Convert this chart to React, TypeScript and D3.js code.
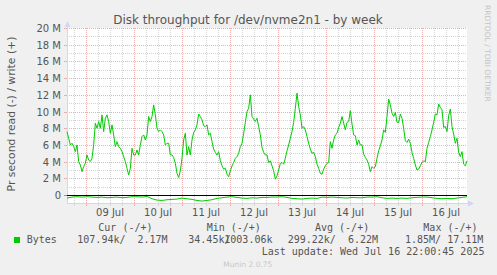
import React, { useEffect } from 'react';
import * as d3 from 'd3';

// Write (+) throughput in MB/s, sampled every 50 minutes from Jul 8 14:30 UTC
const writeValues = [
  7.6, 6.8, 6.0, 6.2, 5.8, 5.2, 6.0, 4.0, 3.6, 2.8, 3.4, 3.8, 4.8, 4.2, 4.0, 4.4,
  6.0, 8.6, 8.0, 8.8, 8.0, 9.6, 7.6, 9.2, 9.6, 8.8, 7.4, 8.4, 7.2, 5.8, 6.4, 5.8,
  5.6, 5.2, 4.6, 4.0, 3.2, 2.4, 3.2, 5.6, 4.8, 4.8, 5.4, 4.8, 6.0, 7.0, 7.2, 6.6,
  7.2, 9.4, 8.8, 9.4, 10.8, 9.6, 8.0, 7.6, 7.8, 7.6, 7.2, 6.0, 6.2, 6.2, 4.8, 4.8,
  4.5, 3.8, 2.6, 2.1, 2.9, 4.4, 6.6, 7.4, 4.8, 5.8, 4.8, 6.6, 7.5, 7.8, 8.4, 9.7,
  9.4, 9.0, 8.3, 8.2, 8.4, 7.2, 7.4, 6.4, 5.5, 5.1, 4.8, 5.2, 4.1, 3.5, 3.1, 3.2,
  2.5, 2.2, 2.9, 3.5, 3.9, 4.4, 4.6, 5.0, 5.8, 6.2, 7.4, 8.7, 10.0, 10.4, 12.0, 9.4,
  9.1, 8.8, 9.2, 8.2, 7.2, 5.7, 5.1, 4.8, 4.8, 3.9, 4.1, 3.5, 2.9,
  1.9, 2.3, 3.0, 3.8, 3.9, 3.7, 4.4, 5.3, 6.0, 6.8, 7.6, 8.7, 10.4, 12.2, 10.6, 9.6,
  8.0, 8.2, 7.8, 7.0, 6.2, 5.5, 5.0, 5.1, 4.6, 3.7, 3.2, 2.6, 2.5, 3.1, 3.5, 3.8,
  3.9, 6.4, 5.6, 6.6, 7.2, 7.4, 8.1, 8.6, 9.4, 8.6, 7.8, 8.7, 8.8, 10.1, 8.5, 7.2,
  7.1, 6.0, 6.6, 6.0, 6.0, 4.9, 4.5, 4.2, 3.7, 2.8, 3.4, 3.2,
  3.4, 4.4, 5.3, 5.9, 6.6, 7.8, 7.5, 9.4, 11.5, 10.8, 9.8, 9.4, 9.9, 8.7, 8.7, 9.7,
  9.2, 8.0, 6.5, 6.3, 6.7, 6.2, 5.1, 4.4, 3.6, 3.0, 3.1, 3.5, 3.9, 4.1, 4.0, 5.6,
  6.3, 7.0, 7.8, 8.7, 9.7, 9.6, 10.9, 10.5, 10.2, 8.1, 8.2, 7.6, 9.5, 10.3, 8.2, 7.3,
  6.2, 6.8, 5.1, 4.6, 5.2, 3.7, 3.5, 4.1,
];

// Read (-) throughput in MB/s, sampled every 150 minutes from Jul 8 14:30 UTC
const readValues = [
  0.36, 0.24, 0.20, 0.24, 0.20, 0.24, 0.28, 0.24, 0.32, 0.28,
  0.24, 0.32, 0.28, 0.20, 0.20, 0.24, 0.16, 0.44, 0.60, 0.64,
  0.56, 0.52, 0.48, 0.36, 0.44, 0.52, 0.64, 0.72, 0.64, 0.56,
  0.40, 0.32, 0.24, 0.20, 0.28, 0.36, 0.40, 0.32, 0.36, 0.28,
  0.28, 0.24, 0.24, 0.20, 0.28, 0.40, 0.44, 0.48, 0.40, 0.36,
  0.40, 0.24, 0.28, 0.24, 0.28, 0.32, 0.36, 0.28, 0.32, 0.32,
  0.24, 0.24, 0.20, 0.32, 0.40, 0.36, 0.40, 0.36, 0.40, 0.32,
  0.28, 0.24, 0.24, 0.32, 0.40, 0.44, 0.40, 0.44, 0.36, 0.28, 0.20,
];

const yTicks = [0, 2, 4, 6, 8, 10, 12, 14, 16, 18, 20];
const yMinorTicks = [1, 3, 5, 7, 9, 11, 13, 15, 17, 19];
const dayLabels = ['09 Jul', '10 Jul', '11 Jul', '12 Jul', '13 Jul', '14 Jul', '15 Jul', '16 Jul'];
const legendHeaders = ['Cur (-/+)', 'Min (-/+)', 'Avg (-/+)', 'Max (-/+)'];
const legendName = 'Bytes';
const title = 'Disk throughput for /dev/nvme2n1 - by week';
const yTitle = 'Pr second read (-) / write (+)';
const lastUpdate = 'Last update: Wed Jul 16 22:00:45 2025';

const START = Date.UTC(2025, 6, 8, 14, 30);
const END = START + 200 * 3600e3;
const WRITE_STEP = 50 * 60e3;
const READ_STEP = 150 * 60e3;

const SANS = 'DejaVu Sans';
const MONO = 'DejaVu Sans Mono';
const FONT_COLOR = '#555';
const AXIS = '#CFD6F8';
const GRID = '#d4d4d4';
const MGRID = '#efaeae';
const GREEN = '#00CC00';

export default function App() {
  useEffect(() => {
    document.body.style.margin = '0';
  }, []);

  const left = 67, right = 467, top = 28, bottom = 203;
  const x = d3.scaleUtc().domain([new Date(START), new Date(END)]).range([left, right]);
  const y = d3.scaleLinear().domain([-0.95, 20]).range([bottom, top]);

  const writeLine = d3.line<number>()
    .x((_, i) => x(new Date(START + i * WRITE_STEP)))
    .y((d) => y(d));
  const readLine = d3.line<number>()
    .x((_, i) => x(new Date(START + i * READ_STEP)))
    .y((d) => y(-d));

  const hours = d3.utcHour.every(6)!.range(new Date(START), new Date(END));
  const y0 = Math.round(y(0)) + 0.5;

  return (
    <svg width={497} height={275} style={{ position: 'absolute', left: 0, top: 0, display: 'block' }}>
      <rect x={0} y={0} width={497} height={275} fill="#F0F0F0" />
      <rect x={left} y={top} width={right - left} height={bottom - top} fill="#FFFFFF" />

      {/* minor horizontal grid */}
      {yMinorTicks.map((t) => (
        <line key={'hm' + t} x1={left} x2={right} y1={Math.round(y(t)) + 0.5} y2={Math.round(y(t)) + 0.5}
          stroke={GRID} strokeDasharray="1,1" shapeRendering="crispEdges" />
      ))}
      {/* vertical grid */}
      {hours.map((h) => {
        const major = h.getUTCHours() === 0;
        const xx = Math.round(x(h)) + 0.5;
        return (
          <g key={'v' + h.getTime()}>
            <line x1={xx} x2={xx} y1={top} y2={bottom} stroke={major ? MGRID : GRID}
              strokeDasharray="1,1" shapeRendering="crispEdges" />
            <line x1={xx} x2={xx} y1={bottom} y2={bottom + 3} stroke={major ? MGRID : GRID}
              shapeRendering="crispEdges" />
          </g>
        );
      })}
      {/* major horizontal grid */}
      {yTicks.filter((t) => t !== 0).map((t) => (
        <line key={'hM' + t} x1={left} x2={right} y1={Math.round(y(t)) + 0.5} y2={Math.round(y(t)) + 0.5}
          stroke={MGRID} strokeDasharray="1,1" shapeRendering="crispEdges" />
      ))}
      {yTicks.map((t) => (
        <line key={'yt' + t} x1={left - 3} x2={left} y1={Math.round(y(t)) + 0.5} y2={Math.round(y(t)) + 0.5}
          stroke={t === 0 ? '#999' : MGRID} shapeRendering="crispEdges" />
      ))}

      {/* axes */}
      <line x1={left + 0.5} x2={left + 0.5} y1={bottom} y2={top - 4} stroke={AXIS} shapeRendering="crispEdges" />
      <line x1={left} x2={right + 3} y1={bottom + 0.5} y2={bottom + 0.5} stroke={AXIS} shapeRendering="crispEdges" />
      <path d={`M${left - 2.5},${top - 1}L${left + 3.5},${top - 1}L${left + 0.5},${top - 7}Z`} fill={AXIS} />
      <path d={`M${right + 1},${bottom - 2.5}L${right + 1},${bottom + 3.5}L${right + 7},${bottom + 0.5}Z`} fill={AXIS} />

      {/* series */}
      <path d={writeLine(writeValues) || ''} fill="none" stroke={GREEN} strokeWidth={1} />
      <path d={readLine(readValues) || ''} fill="none" stroke={GREEN} strokeWidth={1} />
      <line x1={left} x2={right} y1={y0} y2={y0} stroke="#000" strokeWidth={1} shapeRendering="crispEdges" />

      {/* y labels */}
      {yTicks.map((t) => (
        <text key={'yl' + t} x={61} y={y(t) + 4} textAnchor="end" fontFamily={SANS} fontSize={10} fill={FONT_COLOR}>
          {t === 0 ? '0' : `${t} M`}
        </text>
      ))}
      {/* x labels */}
      {dayLabels.map((lab, i) => (
        <text key={lab} x={x(new Date(Date.UTC(2025, 6, 9 + i, 12)))} y={216} textAnchor="middle"
          fontFamily={SANS} fontSize={10} fill={FONT_COLOR}>{lab}</text>
      ))}

      {/* titles */}
      <text x={248} y={24} textAnchor="middle" fontFamily={SANS} fontSize={12} fill={FONT_COLOR}>{title}</text>
      <text transform="translate(14.5,114) rotate(-90)" textAnchor="middle" fontFamily={SANS} fontSize={10.8}
        fill={FONT_COLOR}>{yTitle}</text>
      <text transform="translate(485,5) rotate(90)" fontFamily={SANS} fontSize={7.5} fill="#c4c4c4">
        RRDTOOL / TOBI OETIKER
      </text>

      {/* legend */}
      {legendHeaders.map((h, i) => (
        <text key={h} x={98.3 + i * 108.35} y={230.5} fontFamily={MONO} fontSize={10} fill={FONT_COLOR}
          xmlSpace="preserve" style={{ whiteSpace: 'pre' }}>{h}</text>
      ))}
      <rect x={14} y={237} width={6} height={6} fill={GREEN} />
      <g fontFamily={MONO} fontSize={10} fill={FONT_COLOR} style={{ whiteSpace: 'pre' }}>
        <text x={26.7} y={243} xmlSpace="preserve">{legendName}</text>
        <text x={77.3} y={243} xmlSpace="preserve">{'107.94k/  2.17M'}</text>
        <text x={188.3} y={243} xmlSpace="preserve">{'34.45k/'}</text>
        <text x={224.3} y={243} xmlSpace="preserve">{'1003.06k'}</text>
        <text x={287.7} y={243} xmlSpace="preserve">{'299.22k/  6.22M'}</text>
        <text x={405} y={243} xmlSpace="preserve">{'1.85M/ 17.11M'}</text>
        <text x={261.7} y={254.5} xmlSpace="preserve">{lastUpdate}</text>
      </g>
      <text x={223.3} y={267} fontFamily={SANS} fontSize={7.5} fill="#c8c8c8">Munin 2.0.75</text>
    </svg>
  );
}
